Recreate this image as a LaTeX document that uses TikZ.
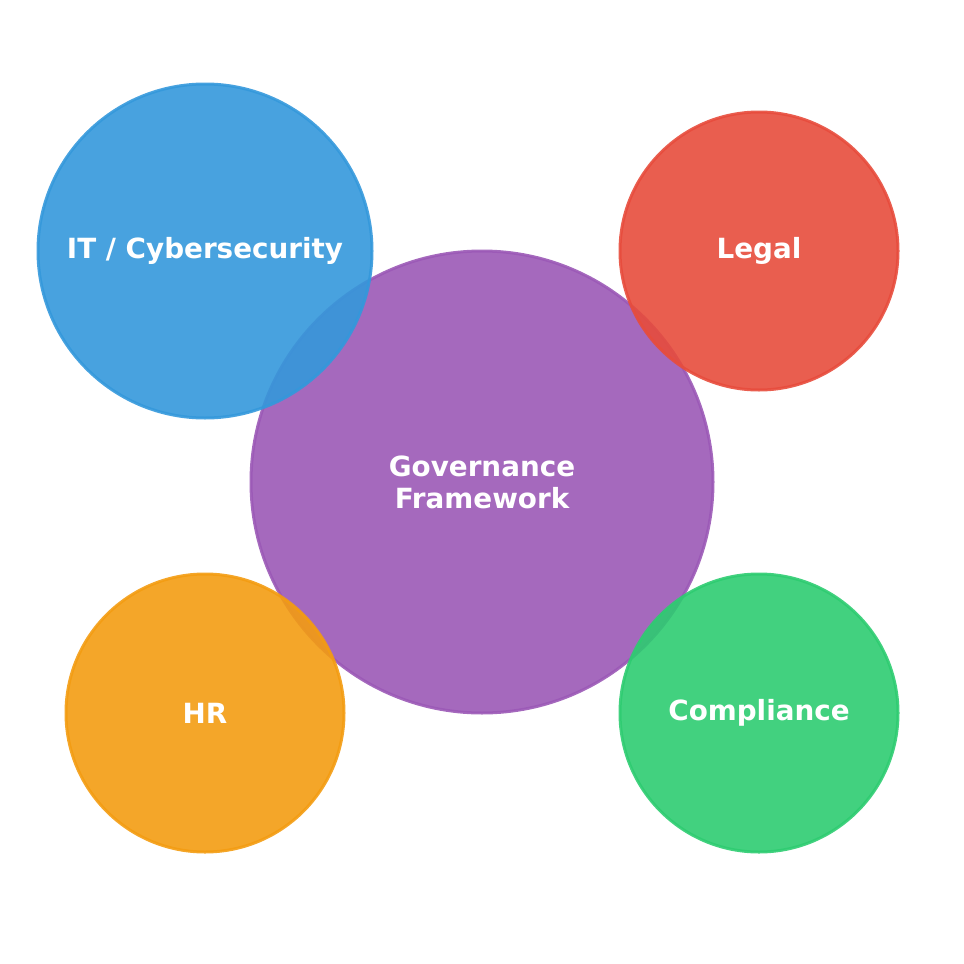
\documentclass[tikz,border=0pt]{standalone}
\usepackage{fontspec}
\setmainfont{DejaVu Sans}
\definecolor{cpurple}{HTML}{9B59B6}
\definecolor{cblue}{HTML}{3498DB}
\definecolor{cred}{HTML}{E74C3C}
\definecolor{corange}{HTML}{F39C12}
\definecolor{cgreen}{HTML}{2ECC71}
\begin{document}
\begin{tikzpicture}[x=1pt,y=-1pt,
  bubble/.style={circle,inner sep=0pt,line width=3pt,opacity=0.9,text opacity=1,
    text=white,font=\bfseries\fontsize{27.8pt}{32pt}\selectfont,align=center},
]
\useasboundingbox (0,0) rectangle (964,964);
\node[bubble,fill=cpurple,draw=cpurple,minimum size=462pt] (gov) at (482,482) {Governance\\Framework};
\node[bubble,fill=cblue,draw=cblue,minimum size=334pt] (it) at (205,251) {IT / Cybersecurity};
\node[bubble,fill=cred,draw=cred,minimum size=278pt] (legal) at (759,251) {Legal};
\node[bubble,fill=corange,draw=corange,minimum size=278pt] (hr) at (205,713) {HR};
\node[bubble,fill=cgreen,draw=cgreen,minimum size=278pt] (comp) at (759,713) {Compliance};
\end{tikzpicture}
\end{document}
